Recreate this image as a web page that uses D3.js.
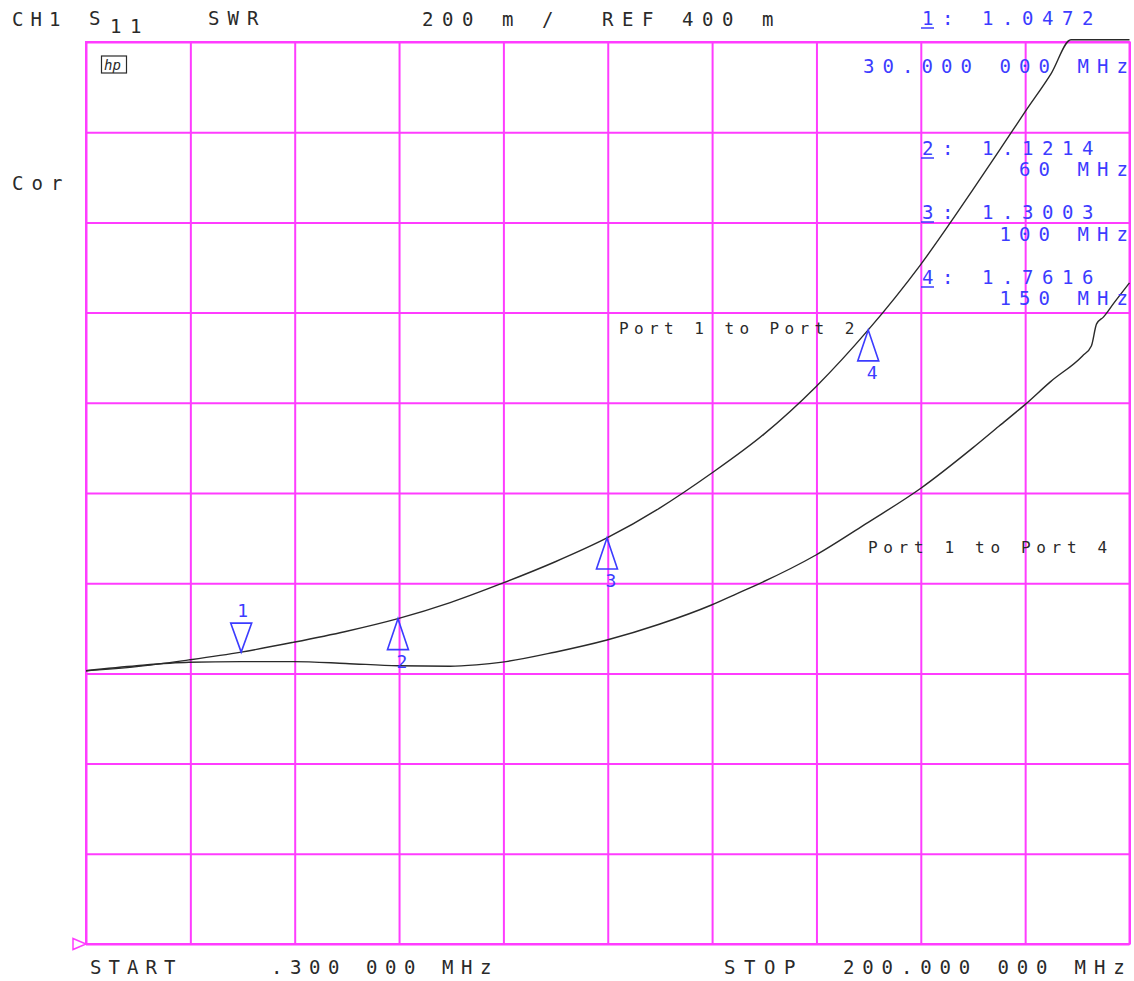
<!DOCTYPE html>
<html>
<head>
<meta charset="utf-8">
<script src="https://cdn.jsdelivr.net/npm/d3@7"></script>
<style>
  body { margin: 0; background: #fff; }
  text { font-family: "DejaVu Sans Mono", monospace; white-space: pre; }
</style>
</head>
<body>
<div id="chart-root"></div>
<script>
// trace readings (MHz, SWR)
var port12Freq = [0.3, 10, 20, 30, 40, 50, 60, 70, 80, 90, 100, 110, 120, 130, 140, 150, 160, 170, 175, 180, 185, 188.8, 200];
var port12Swr  = [1.006, 1.015, 1.030, 1.0472, 1.069, 1.093, 1.1214, 1.157, 1.200, 1.247, 1.3003, 1.366, 1.4437, 1.530, 1.6357, 1.7616, 1.906, 2.072, 2.158, 2.245, 2.33, 2.405, 2.405];

var port14Freq = [0.3, 10, 20, 30, 40, 50, 60, 70, 75, 80, 90, 100, 110, 120, 125, 129.3, 140, 150, 160, 170, 175, 180, 184.9, 191, 192.7, 193.7, 195, 197, 200];
var port14Swr  = [1.006, 1.017, 1.0246, 1.026, 1.026, 1.022, 1.017, 1.016, 1.019, 1.025, 1.047, 1.074, 1.109, 1.1517, 1.1776, 1.1998, 1.2625, 1.335, 1.410, 1.50, 1.548, 1.596, 1.647, 1.704, 1.726, 1.775, 1.79, 1.821, 1.866];

// markers
var markerNo = [1, 2, 3, 4];
var markerFreq = [30, 60, 100, 150];
var markerSwr = [1.0472, 1.1214, 1.3003, 1.7616];
var markerSwrText = ["1.0472", "1.1214", "1.3003", "1.7616"];
var markerFreqText = ["30.000 000 MHz", "60 MHz", "100 MHz", "150 MHz"];

// sweep and scale
var startMHz = 0.3, stopMHz = 200;
var refSwr = 0.4, perDiv = 0.2, divs = 10;

var W = 1134, H = 981;
var margin = { top: 42, left: 86, right: 4.5, bottom: 37 };
var width = W - margin.left - margin.right,
    height = H - margin.top - margin.bottom;

var grid = "#ff3cff", blue = "#3c3cff", ink = "#2a2a2a";

var svg = d3.select("#chart-root")
    .append("svg")
    .attr("width", W)
    .attr("height", H);

var x = d3.scaleLinear().domain([startMHz, stopMHz]).range([margin.left, margin.left + width]);
var y = d3.scaleLinear().domain([refSwr, refSwr + perDiv * divs]).range([margin.top + height, margin.top]);

// grid via axes
var xTicks = d3.range(divs + 1).map(function (i) { return startMHz + i * (stopMHz - startMHz) / divs; });
var yTicks = d3.range(divs + 1).map(function (i) { return refSwr + i * perDiv; });

svg.append("g")
    .attr("class", "xgrid")
    .attr("transform", "translate(0," + (margin.top + height) + ")")
    .call(d3.axisBottom(x).tickValues(xTicks).tickSize(-height).tickFormat(""));
svg.append("g")
    .attr("class", "ygrid")
    .attr("transform", "translate(" + margin.left + ",0)")
    .call(d3.axisLeft(y).tickValues(yTicks).tickSize(-width).tickFormat(""));
svg.selectAll(".xgrid line, .ygrid line").attr("stroke", grid).attr("stroke-width", 2);
svg.selectAll(".domain").remove();
svg.append("rect")
    .attr("x", x(startMHz)).attr("y", y(refSwr + perDiv * divs))
    .attr("width", x(stopMHz) - x(startMHz)).attr("height", y(refSwr) - y(refSwr + perDiv * divs))
    .attr("fill", "none").attr("stroke", grid).attr("stroke-width", 2);

// reference position marker
var ry = y(refSwr);
svg.append("path")
    .attr("d", "M" + (x(startMHz) - 13) + "," + (ry - 5.5) + "L" + x(startMHz) + "," + ry + "L" + (x(startMHz) - 13) + "," + (ry + 5.5) + "Z")
    .attr("fill", "none").attr("stroke", grid).attr("stroke-width", 1.5);

// hp logo
svg.append("rect").attr("x", 101.5).attr("y", 56).attr("width", 25).attr("height", 17)
    .attr("fill", "none").attr("stroke", ink).attr("stroke-width", 1.2);
svg.append("text").attr("x", 104).attr("y", 70).text("hp")
    .style("font-size", "14px").style("font-style", "italic").attr("fill", ink);

// traces
var line = d3.line()
    .x(function (d) { return x(d[0]); })
    .y(function (d) { return y(d[1]); })
    .curve(d3.curveMonotoneX);

var traces = [d3.zip(port12Freq, port12Swr), d3.zip(port14Freq, port14Swr)];
svg.selectAll(".trace")
    .data(traces)
    .enter().append("path")
    .attr("class", "trace")
    .attr("d", line)
    .attr("fill", "none")
    .attr("stroke", ink)
    .attr("stroke-width", 1.4);

// text helper: fixed character pitch, one x per character
function label(str, px, py, opts) {
    opts = opts || {};
    var fs = opts.size || 19, pitch = opts.pitch || 19.5;
    var xs = str.split("").map(function (c, i) { return (px + i * pitch).toFixed(1); });
    return svg.append("text")
        .attr("x", xs.join(" ")).attr("y", py)
        .attr("fill", opts.color || ink)
        .style("font-size", fs + "px")
        .text(str);
}

// header and footer
label("CH1", 12, 26, { pitch: 18.5 });
label("S", 89, 25);
label("11", 110, 33, { pitch: 20 });
label("SWR", 208, 25);
label("200 m /  REF 400 m", 422, 26, { pitch: 20 });
label("Cor", 12, 190);
label("START", 90, 974, { pitch: 18.5 });
label(".300 000 MHz", 271, 974, { pitch: 19 });
label("STOP", 724, 974, { pitch: 20 });
label("200.000 000 MHz", 843, 974, { pitch: 19.3 });

// trace names
label("Port 1 to Port 2", 619, 334, { size: 16, pitch: 15.05 });
label("Port 1 to Port 4", 868, 553, { size: 16, pitch: 15.3 });

// marker readouts
var readY = [[25, 73], [155, 176], [219, 241], [284, 305]];
markerNo.forEach(function (m, i) {
    label(m + ": " + markerSwrText[i], 922, readY[i][0], { color: blue, pitch: 20 });
    svg.append("line")
        .attr("x1", 921).attr("x2", 934)
        .attr("y1", readY[i][0] + 3).attr("y2", readY[i][0] + 3)
        .attr("stroke", blue).attr("stroke-width", 1.5);
    var fp = 19.5;
    var fx = 1128 - (markerFreqText[i].length - 1) * fp - 11.5;
    label(markerFreqText[i], fx, readY[i][1], { color: blue, pitch: fp });
});

// marker symbols on the trace
markerNo.forEach(function (m, i) {
    var mx = x(markerFreq[i]), my = y(markerSwr[i]);
    var g = svg.append("g").attr("class", "marker");
    if (i === 0) {
        g.append("path")
            .attr("d", "M" + mx + "," + my + "L" + (mx - 10.5) + "," + (my - 29) + "L" + (mx + 10.5) + "," + (my - 29) + "Z")
            .attr("fill", "none").attr("stroke", blue).attr("stroke-width", 1.6);
        g.append("text").attr("x", mx + 1.5).attr("y", my - 35)
            .attr("text-anchor", "middle").attr("fill", blue)
            .style("font-size", "18px").text(m);
    } else {
        g.append("path")
            .attr("d", "M" + mx + "," + my + "L" + (mx - 10.5) + "," + (my + 31) + "L" + (mx + 10.5) + "," + (my + 31) + "Z")
            .attr("fill", "none").attr("stroke", blue).attr("stroke-width", 1.6);
        g.append("text").attr("x", mx + 4).attr("y", my + 49)
            .attr("text-anchor", "middle").attr("fill", blue)
            .style("font-size", "18px").text(m);
    }
});
</script>
</body>
</html>
